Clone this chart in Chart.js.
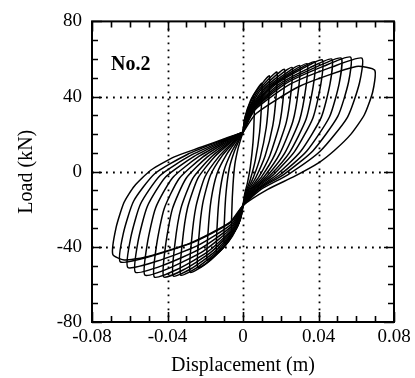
<!DOCTYPE html>
<html>
<head>
<meta charset="utf-8">
<script src="https://cdn.jsdelivr.net/npm/chart.js@4.4.1/dist/chart.umd.min.js"></script>
<style>
  html, body { margin: 0; padding: 0; background: #fff; }
  canvas { display: block; }
</style>
</head>
<body>
<canvas id="hysteresis" width="415" height="378"></canvas>
<script>
// axis ranges and labelled ticks
const xMajor = [-0.08, -0.04, 0, 0.04, 0.08];
const yMajor = [-80, -40, 0, 40, 80];
const panelLabel = 'No.2';

// load–displacement cycles as [displacement (m), load (kN)]
const cycle01 = [[0,21],[0.0006,26.1],[0.0024,32.1],[0.0045,36],[0.006,38],[0.0059,28.5],[0.0053,15.6],[0.0039,2.7],[0.0023,-6.2],[0.0009,-11.8],[0,-18],
  [-0.0006,-22.2],[-0.0024,-27.1],[-0.0045,-30.6],[-0.006,-32],[-0.0059,-20.3],[-0.0053,-7.1],[-0.0043,4],[-0.0027,12],[-0.0011,17.6],[0,21]];
const cycle02 = [[0,21],[0.001,28.8],[0.004,37.9],[0.0075,43.9],[0.010,47],[0.0098,35.9],[0.0088,21],[0.0065,6],[0.0038,-4.4],[0.0015,-10.9],[0,-18],
  [-0.001,-24],[-0.004,-31],[-0.0075,-36],[-0.010,-38],[-0.0098,-25],[-0.0089,-10.3],[-0.0072,2.1],[-0.0045,11],[-0.0018,17.2],[0,21]];
const cycle03 = [[0,21],[0.0014,30],[0.0056,40.5],[0.0105,47.4],[0.014,51],[0.0137,39.3],[0.0123,23.4],[0.0091,7.5],[0.0053,-3.5],[0.0021,-10.4],[0,-18],
  [-0.0014,-25.5],[-0.0056,-34.3],[-0.0105,-40.5],[-0.014,-43],[-0.0137,-28.9],[-0.0125,-12.9],[-0.0101,0.5],[-0.0063,10.1],[-0.0025,16.8],[0,21]];
const cycle04 = [[0,21],[0.0018,30.6],[0.0072,41.8],[0.0135,49.2],[0.018,53],[0.0176,40.9],[0.0158,24.6],[0.0117,8.3],[0.0068,-3.1],[0.0027,-10.2],[0,-18],
  [-0.0019,-26.7],[-0.0076,-36.9],[-0.0143,-44.1],[-0.019,-47],[-0.0185,-32],[-0.0169,-15],[-0.0137,-0.8],[-0.0086,9.4],[-0.0034,16.6],[0,21]];
const cycle05 = [[0,21],[0.0022,31.1],[0.0088,42.8],[0.0165,50.5],[0.022,54.5],[0.0216,42.2],[0.0194,25.5],[0.0143,8.8],[0.0084,-2.8],[0.0033,-10],[0,-18],
  [-0.0024,-27.9],[-0.0096,-39.5],[-0.018,-47.7],[-0.024,-51],[-0.0234,-35.2],[-0.0214,-17.2],[-0.0173,-2],[-0.0108,8.8],[-0.0043,16.3],[0,21]];
const cycle06 = [[0,21],[0.0026,31.4],[0.0104,43.4],[0.0195,51.4],[0.026,55.5],[0.0255,43],[0.0229,26.1],[0.0169,9.2],[0.0099,-2.6],[0.0039,-9.9],[0,-18],
  [-0.0028,-28.7],[-0.0112,-41.1],[-0.021,-50],[-0.028,-53.5],[-0.0273,-37.1],[-0.0249,-18.5],[-0.0202,-2.8],[-0.0126,8.3],[-0.005,16.2],[0,21]];
const cycle07 = [[0,21],[0.003,31.7],[0.012,44.1],[0.0225,52.2],[0.030,56.5],[0.0294,43.8],[0.0264,26.7],[0.0195,9.6],[0.0114,-2.4],[0.0045,-9.8],[0,-18],
  [-0.0033,-29.1],[-0.0132,-42.1],[-0.0248,-51.3],[-0.033,-55],[-0.0322,-38.3],[-0.0294,-19.3],[-0.0238,-3.3],[-0.0149,8.1],[-0.0059,16.1],[0,21]];
const cycle08 = [[0,21],[0.0034,32],[0.0136,44.7],[0.0255,53.1],[0.034,57.5],[0.0333,44.7],[0.0299,27.3],[0.0221,9.9],[0.0129,-2.1],[0.0051,-9.7],[0,-18],
  [-0.0037,-29.3],[-0.0148,-42.4],[-0.0278,-51.8],[-0.037,-55.5],[-0.0361,-38.7],[-0.0329,-19.5],[-0.0266,-3.5],[-0.0167,8],[-0.0067,16],[0,21]];
const cycle09 = [[0,21],[0.0038,32.3],[0.0152,45.4],[0.0285,54],[0.038,58.5],[0.0372,45.5],[0.0334,27.9],[0.0247,10.3],[0.0144,-1.9],[0.0057,-9.6],[0,-18],
  [-0.0042,-29.4],[-0.0168,-42.7],[-0.0315,-52.2],[-0.042,-56],[-0.041,-39.1],[-0.0374,-19.8],[-0.0302,-3.6],[-0.0189,7.9],[-0.0076,16],[0,21]];
const cycle10 = [[0,21],[0.0042,32.6],[0.0168,46],[0.0315,54.9],[0.042,59.5],[0.0412,46.3],[0.037,28.5],[0.0273,10.7],[0.016,-1.7],[0.0063,-9.5],[0,-18],
  [-0.0047,-29.4],[-0.0188,-42.7],[-0.0353,-52.2],[-0.047,-56],[-0.0458,-39.1],[-0.0418,-19.8],[-0.0338,-3.6],[-0.0212,7.9],[-0.0085,16],[0,21]];
const cycle11 = [[0,21],[0.0047,32.7],[0.0188,46.4],[0.0353,55.3],[0.047,60],[0.0461,46.7],[0.0414,28.8],[0.0306,10.9],[0.0179,-1.6],[0.0071,-9.4],[0,-18],
  [-0.0052,-29.1],[-0.0208,-42.1],[-0.039,-51.3],[-0.052,-55],[-0.0507,-38.3],[-0.0463,-19.3],[-0.0374,-3.3],[-0.0234,8.1],[-0.0094,16.1],[0,21]];
const cycle12 = [[0,21],[0.0052,32.9],[0.0208,46.7],[0.039,55.8],[0.052,60.5],[0.051,47.2],[0.0458,29.1],[0.0338,11],[0.0198,-1.5],[0.0078,-9.4],[0,-18],
  [-0.0057,-28.7],[-0.0228,-41.1],[-0.0428,-50],[-0.057,-53.5],[-0.0556,-37.1],[-0.0507,-18.5],[-0.041,-2.8],[-0.0257,8.3],[-0.0103,16.2],[0,21]];
const cycle13 = [[0,21],[0.0057,33],[0.0228,47],[0.0428,56.2],[0.057,61],[0.0559,47.6],[0.0502,29.4],[0.0371,11.2],[0.0217,-1.4],[0.0086,-9.3],[0,-18],
  [-0.0061,-27.9],[-0.0244,-39.5],[-0.0458,-47.7],[-0.061,-51],[-0.0595,-35.2],[-0.0543,-17.2],[-0.0439,-2],[-0.0275,8.8],[-0.011,16.3],[0,21]];
const cycle14 = [[0,21],[0.0063,32.9],[0.0252,46.7],[0.0473,55.8],[0.063,60.5],[0.0617,47.2],[0.0554,29.1],[0.041,11],[0.0239,-1.5],[0.0095,-9.4],[0,-18],
  [-0.0065,-27],[-0.026,-37.5],[-0.0488,-45],[-0.065,-48],[-0.0634,-32.8],[-0.0579,-15.6],[-0.0468,-1.1],[-0.0293,9.3],[-0.0117,16.5],[0,21]];
const cycle15 = [[0,21],[0.007,31],[0.030,45.5],[0.060,56],[0.0698,54],[0.0687,42.4],[0.0643,30.3],[0.0572,20],[0.0484,11.3],[0.0396,4.4],[0.0272,-2.5],[0.0131,-9.4],[0,-18],
  [-0.007,-27],[-0.028,-38],[-0.052,-45.5],[-0.063,-47],[-0.069,-44],[-0.0673,-30],[-0.063,-16.3],[-0.0576,-7.7],[-0.0487,0.9],[-0.0364,7.9],[-0.0223,13],[-0.008,18.2],[0,21]];

const cycles = [cycle01, cycle02, cycle03, cycle04, cycle05, cycle06, cycle07, cycle08,
  cycle09, cycle10, cycle11, cycle12, cycle13, cycle14, cycle15];

const serif = '"Liberation Serif", "DejaVu Serif", serif';

function isMajor(v, list) {
  return list.some(m => Math.abs(m - v) < 1e-9);
}

// dotted grid at inner major ticks, inward ticks on all four sides, frame, panel label
const framePlugin = {
  id: 'framePlugin',
  beforeDatasetsDraw(chart) {
    const { ctx, chartArea: a, scales: { x, y } } = chart;
    ctx.save();
    ctx.strokeStyle = '#000';
    ctx.lineWidth = 1.8;
    ctx.setLineDash([1.8, 5.2]);
    xMajor.forEach(v => {
      if (v <= x.min || v >= x.max) return;
      const px = Math.round(x.getPixelForValue(v)) + 0.5;
      ctx.beginPath(); ctx.moveTo(px, a.top); ctx.lineTo(px, a.bottom); ctx.stroke();
    });
    yMajor.forEach(v => {
      if (v <= y.min || v >= y.max) return;
      const py = Math.round(y.getPixelForValue(v)) + 0.5;
      ctx.beginPath(); ctx.moveTo(a.left, py); ctx.lineTo(a.right, py); ctx.stroke();
    });
    ctx.restore();
  },
  afterDatasetsDraw(chart) {
    const { ctx, chartArea: a, scales: { x, y } } = chart;
    ctx.save();
    ctx.strokeStyle = '#000';
    ctx.lineWidth = 2;
    ctx.setLineDash([]);
    ctx.strokeRect(a.left, a.top, a.right - a.left, a.bottom - a.top);
    ctx.lineWidth = 1.6;
    ctx.beginPath();
    x.ticks.forEach(t => {
      const px = Math.round(x.getPixelForValue(t.value)) + 0.5;
      const len = isMajor(t.value, xMajor) ? 10 : 6;
      ctx.moveTo(px, a.bottom); ctx.lineTo(px, a.bottom - len);
      ctx.moveTo(px, a.top); ctx.lineTo(px, a.top + len);
    });
    y.ticks.forEach(t => {
      const py = Math.round(y.getPixelForValue(t.value)) + 0.5;
      const len = isMajor(t.value, yMajor) ? 10 : 6;
      ctx.moveTo(a.left, py); ctx.lineTo(a.left + len, py);
      ctx.moveTo(a.right, py); ctx.lineTo(a.right - len, py);
    });
    ctx.stroke();

    ctx.fillStyle = '#000';
    ctx.font = 'bold 20px ' + serif;
    ctx.textBaseline = 'alphabetic';
    ctx.textAlign = 'left';
    ctx.fillText(panelLabel, a.left + 19, a.top + 49);
    ctx.restore();
  }
};

const ctx = document.getElementById('hysteresis').getContext('2d');

new Chart(ctx, {
  type: 'scatter',
  data: {
    datasets: cycles.map((c, i) => ({
      label: 'cycle ' + (i + 1),
      data: c.map(p => ({ x: p[0], y: p[1] })),
      showLine: true,
      borderColor: '#000',
      borderWidth: 1.5,
      pointRadius: 0,
      tension: 0.2,
      fill: false
    }))
  },
  options: {
    responsive: false,
    animation: false,
    events: [],
    layout: { padding: { left: 0, top: 13, right: 21, bottom: 0 } },
    plugins: {
      legend: { display: false },
      tooltip: { enabled: false }
    },
    scales: {
      x: {
        type: 'linear',
        min: -0.08,
        max: 0.08,
        afterFit(scale) { scale.height = 56; },
        grid: { display: false, drawTicks: false },
        border: { display: false },
        ticks: {
          stepSize: 0.01,
          autoSkip: false,
          maxRotation: 0,
          padding: 4,
          color: '#000',
          font: { family: serif, size: 19 },
          callback: v => isMajor(v, xMajor) ? String(Math.round(v * 100) / 100) : ''
        },
        title: {
          display: true,
          text: 'Displacement (m)',
          color: '#000',
          font: { family: serif, size: 20 },
          padding: { top: 0, bottom: 0 }
        }
      },
      y: {
        type: 'linear',
        min: -80,
        max: 80,
        afterFit(scale) { scale.width = 92; },
        grid: { display: false, drawTicks: false },
        border: { display: false },
        ticks: {
          stepSize: 10,
          autoSkip: false,
          padding: 10,
          color: '#000',
          font: { family: serif, size: 19 },
          callback: v => isMajor(v, yMajor) ? String(v) : ''
        },
        title: {
          display: true,
          text: 'Load (kN)',
          color: '#000',
          font: { family: serif, size: 20 },
          padding: { top: 15, bottom: 0 }
        }
      }
    }
  },
  plugins: [framePlugin]
});
</script>
</body>
</html>
